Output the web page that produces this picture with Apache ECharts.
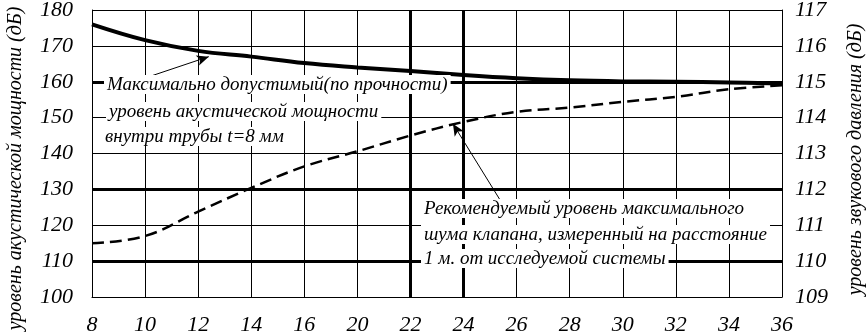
<!DOCTYPE html>
<html>
<head>
<meta charset="utf-8">
<script src="https://cdn.jsdelivr.net/npm/echarts@6/dist/echarts.min.js"></script>
<style>
  html, body { margin: 0; padding: 0; background: #fff; }
  #chart { width: 866px; height: 336px; }
</style>
</head>
<body>
<div id="chart"></div>
<script>
// x tick labels (18 is absent on the original scale, ticks are evenly spaced)
var xLabels = ['8', '10', '12', '14', '16', '20', '22', '24', '26', '28', '30', '32', '34', '36'];
// maximum allowed acoustic power level (dB)
var maxPower = [176, 171.6, 168.6, 167, 165.2, 164, 163, 161.9, 161, 160.4, 160.1, 160, 159.8, 159.5];
// recommended maximal valve noise (left scale, dB)
var recommended = [115, 117, 123.8, 130.4, 136.4, 140.6, 145, 148.8, 151.6, 152.8, 154.4, 155.8, 157.9, 159];
// heavy reference lines
var heavyY = [160, 130, 110];
var heavyX = [6, 7];

var chart = echarts.init(document.getElementById('chart'), null, { renderer: 'canvas' });

var tickFont = { fontFamily: 'Liberation Sans Narrow', fontStyle: 'italic', fontSize: 22, color: '#000' };
var nameFont = { fontFamily: 'Liberation Sans Narrow', fontStyle: 'italic', fontSize: 20, color: '#000' };
var noteFont = 'italic 19px Liberation Serif';

function pairs(arr) {
    return arr.map(function (v, i) { return [i, v]; });
}

function note(x, y, text) {
    return {
        type: 'text', left: x, top: y, z: 100,
        style: {
            text: text, font: noteFont, fill: '#000',
            backgroundColor: '#fff', padding: [0, 3, 0, 3]
        }
    };
}

var option = {
    animation: false,
    grid: { left: 92, right: 84, top: 10, bottom: 39, containLabel: false, outerBoundsMode: 'none' },
    xAxis: {
        type: 'value', min: 0, max: 13, interval: 1,
        axisLine: { show: true, lineStyle: { color: '#000', width: 1 } },
        axisTick: { show: false },
        axisLabel: Object.assign({ margin: 17, formatter: function (v) { return xLabels[v]; } }, tickFont),
        splitLine: { show: true, lineStyle: { color: '#000', width: 1 } }
    },
    yAxis: [{
        type: 'value', min: 100, max: 180, interval: 10,
        name: 'уровень акустической мощности (дБ)',
        nameLocation: 'middle', nameRotate: 90, nameGap: 66,
        nameTextStyle: Object.assign({ padding: [0, 30, 0, 0] }, nameFont),
        axisLine: { show: true, lineStyle: { color: '#000', width: 1 } },
        axisTick: { show: false },
        axisLabel: Object.assign({ margin: 19 }, tickFont),
        splitLine: { show: true, lineStyle: { color: '#000', width: 1 } }
    }, {
        type: 'value', min: 109, max: 117, interval: 1, position: 'right',
        name: 'уровень звукового давления (дБ)',
        nameLocation: 'middle', nameRotate: 90, nameGap: 64,
        nameTextStyle: Object.assign({ padding: [0, 12, 0, 0] }, nameFont),
        axisLine: { show: true, lineStyle: { color: '#000', width: 1 } },
        axisTick: { show: false },
        axisLabel: Object.assign({ margin: 13 }, tickFont),
        splitLine: { show: false }
    }],
    series: [{
        name: 'recommended', type: 'line', smooth: 0.4, symbol: 'none',
        data: pairs(recommended),
        lineStyle: { color: '#000', width: 2.5, type: [12, 6] },
        markLine: {
            silent: true, symbol: 'none', label: { show: false },
            lineStyle: { color: '#000', width: 3, type: 'solid' },
            data: heavyY.map(function (v) { return { yAxis: v }; })
                .concat(heavyX.map(function (v) { return { xAxis: v }; }))
        }
    }, {
        name: 'max', type: 'line', smooth: 0.4, symbol: 'none',
        data: pairs(maxPower),
        lineStyle: { color: '#000', width: 4 },
        z: 5,
        markLine: {
            silent: true, symbol: ['none', 'arrow'], symbolSize: [8, 12],
            label: { show: false },
            lineStyle: { color: '#000', width: 1, type: 'solid' },
            data: [
                [{ coord: [0.75, 159.8] }, { coord: [2.2, 167] }],
                [{ coord: [7.69, 127] }, { coord: [6.8, 148.3] }]
            ]
        }
    }],
    graphic: [
        note(104, 75, 'Максимально допустимый(по прочности)'),
        note(106, 102, 'уровень акустической мощности'),
        note(102, 127, 'внутри трубы t=8 мм'),
        note(421, 199, 'Рекомендуемый уровень максимального'),
        note(421, 225, 'шума клапана, измеренный на расстояние'),
        note(421, 249, '1 м. от исследуемой системы')
    ]
};

chart.setOption(option);
window.addEventListener('resize', function () {
    chart.resize();
});
</script>
</body>
</html>
